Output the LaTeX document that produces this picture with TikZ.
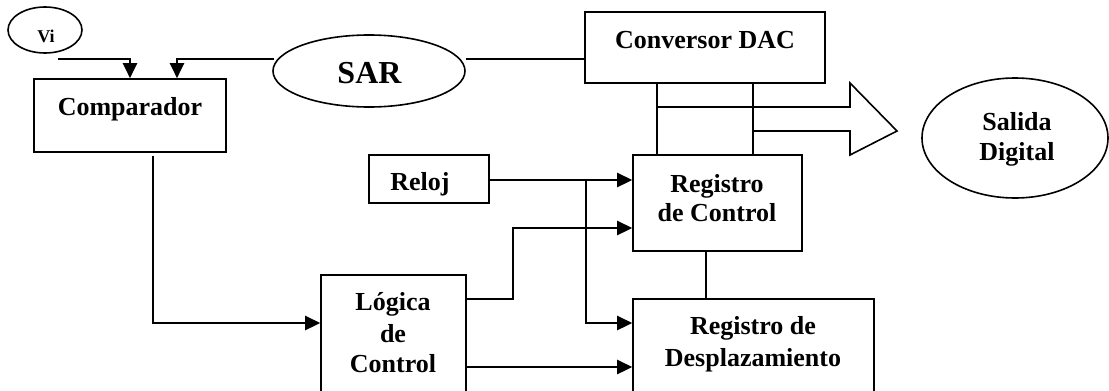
\documentclass[tikz,border=0pt]{standalone}
\usepackage{fontspec}
\setmainfont{Liberation Serif}
\usetikzlibrary{arrows.meta,shapes.geometric}
\begin{document}
\begin{tikzpicture}[x=1pt,y=-1pt,
  box/.style={draw, line width=1.6pt, rectangle, inner sep=0pt},
  oval/.style={draw, line width=1.6pt, ellipse, inner sep=0pt},
  txt/.style={font=\fontsize{26}{30}\selectfont\bfseries, anchor=base, inner sep=0pt},
  arr/.style={line width=2.6pt, -{Triangle[length=15pt,width=14pt]}},
  ln/.style={line width=1.6pt}]
\useasboundingbox (0,0) rectangle (1109,391);
\clip (0,0) rectangle (1109,391);

% shapes
\node[oval, minimum width=74pt, minimum height=46pt] (vi) at (45,30) {};
\node[oval, minimum width=192pt, minimum height=72pt] (sar) at (369,71) {};
\node[oval, minimum width=186pt, minimum height=120pt] (sal) at (1015,138) {};
\node[box, minimum width=192pt, minimum height=73pt] (comp) at (130,115.5) {};
\node[box, minimum width=240pt, minimum height=71pt] (dac) at (705,47.5) {};
\node[box, minimum width=169pt, minimum height=96pt] (rdc) at (717.5,203) {};
\node[box, minimum width=120pt, minimum height=48pt] (reloj) at (429,179) {};
\node[box, minimum width=145pt, minimum height=125pt] (log) at (393.5,337.5) {};
\node[box, minimum width=241pt, minimum height=101pt] (rdd) at (753.5,349.5) {};

% texts
\node[txt, font=\fontsize{18}{20}\selectfont\bfseries] (tvi) at (46,42) {Vi};
\node[txt, font=\fontsize{32}{36}\selectfont\bfseries] (tsar) at (369.5,83) {SAR};
\node[txt] (tcomp) at (130,115) {Comparador};
\node[txt] (tdac) at (705,48) {Conversor DAC};
\node[txt] (treloj) at (420,190) {Reloj};
\node[txt] (trdc1) at (717,192) {Registro};
\node[txt] (trdc2) at (717,221) {de Control};
\node[txt] (tlog1) at (393,310) {Lógica};
\node[txt] (tlog2) at (393,342) {de};
\node[txt] (tlog3) at (393,372) {Control};
\node[txt] (trdd1) at (753,334) {Registro de};
\node[txt] (trdd2) at (753,366) {Desplazamiento};
\node[txt] (tsal1) at (1017,130) {Salida};
\node[txt] (tsal2) at (1017,160) {Digital};

% connector end points
\coordinate (vistart) at (58,59);
\coordinate (sarL) at (274,59);
\coordinate (sarR) at (466,59);
\coordinate (br) at (586,180);
\coordinate (brEnd) at (586,323);
\coordinate (bend) at (513,299);
\coordinate (lvl) at (513,228);

% connectors
\draw[arr, line width=2pt] (vistart) -| (comp.north);
\draw[arr, line width=2pt] (sarL) -| ([xshift=47pt]comp.north);
\draw[ln] (sarR) -- (sarR -| dac.west);
\draw[ln] ([xshift=-48pt]dac.south) -- ([xshift=-48pt]dac.south |- rdc.north);
\draw[ln] ([xshift=48pt]dac.south) -- ([xshift=48pt]dac.south |- rdc.north);
\draw[ln, line join=miter] (657,107) -- (850,107) -- (850,83) -- (897,131) -- (850,155) -- (850,131) -- (753,131);
\draw[arr] (reloj.east |- br) -- (br -| rdc.west);
\draw[arr] (br) |- (brEnd -| rdd.west);
\draw[arr] (log.east |- bend) -- (bend) |- (lvl -| rdc.west);
\draw[arr] (log.east |- 0,367) -- (rdd.west |- 0,367);
\draw[arr] ([yshift=-3pt]comp.south -| 153,0) |- (log.west |- brEnd);
\draw[ln] (rdc.south -| 706,0) -- (rdd.north -| 706,0);
\end{tikzpicture}
\end{document}
